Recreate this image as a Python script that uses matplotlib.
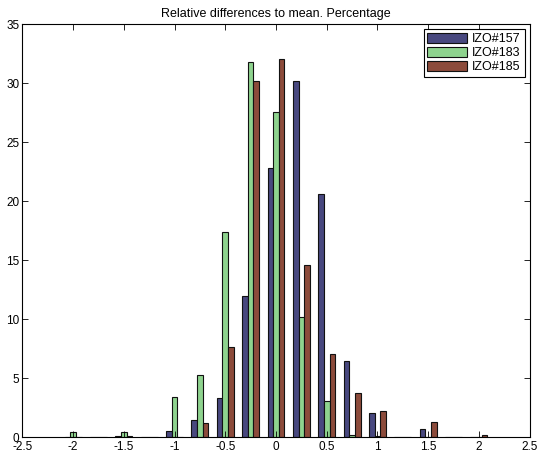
import matplotlib
matplotlib.use("Agg")
import matplotlib.pyplot as plt
import numpy as np

plt.rcParams['font.family'] = ['Liberation Sans', 'DejaVu Sans']

bins = [-2.0, -1.75, -1.5, -1.25, -1.0, -0.75, -0.5, -0.25, 0.0, 0.25, 0.5, 0.75, 1.0, 1.25, 1.5, 1.75, 2.0]
izo157 = [0.05, 0.0, 0.08, 0.0, 0.51, 1.46, 3.35, 11.96, 22.78, 30.14, 20.63, 6.47, 2.09, 0.0, 0.74, 0.0, 0.05]
izo183 = [0.47, 0.0, 0.47, 0.0, 3.44, 5.30, 17.4, 31.75, 27.57, 10.2, 3.07, 0.23, 0.12, 0.0, 0.05, 0.0, 0.03]
izo185 = [0.03, 0.0, 0.08, 0.0, 0.03, 1.21, 7.62, 30.14, 32.06, 14.56, 7.09, 3.73, 2.2, 0.0, 1.27, 0.0, 0.23]
labels = ['IZO#157', 'IZO#183', 'IZO#185']
colors = ['#48487f', '#8ed38e', '#8c4b3b']

fig = plt.figure(figsize=(5.38, 4.55), dpi=100)
ax = fig.add_axes([0.0415, 0.039, 0.943, 0.908])

x = np.array(bins)
step = 0.0556
for i, (vals, lab, c) in enumerate(zip([izo157, izo183, izo185], labels, colors)):
    ax.bar(x + (i - 1) * step, vals, width=step, color=c, edgecolor='#111111',
           linewidth=0.8, label=lab)

ax.set_xlim(-2.5, 2.5)
ax.set_ylim(0, 35)
ax.set_xticks(np.arange(-2.5, 2.51, 0.5))
ax.set_xticklabels(['-2.5', '-2', '-1.5', '-1', '-0.5', '0', '0.5', '1', '1.5', '2', '2.5'])
ax.set_yticks(np.arange(0, 36, 5))
ax.tick_params(direction='in', top=True, right=True, labelsize=8.5, length=4, width=0.6)
ax.tick_params(axis='x', pad=2.5)
ax.tick_params(axis='y', pad=2)
for s in ax.spines.values():
    s.set_linewidth(0.8)
ax.set_title('Relative differences to mean. Percentage', fontsize=9, pad=5)

leg = ax.legend(loc='upper right', fontsize=9, fancybox=False, edgecolor='black',
                framealpha=1, handlelength=3.2, handleheight=0.9, borderpad=0.3,
                labelspacing=0.12, handletextpad=0.4, borderaxespad=0.4)
leg.get_frame().set_linewidth(0.8)

fig.savefig('out.png', dpi=100)
